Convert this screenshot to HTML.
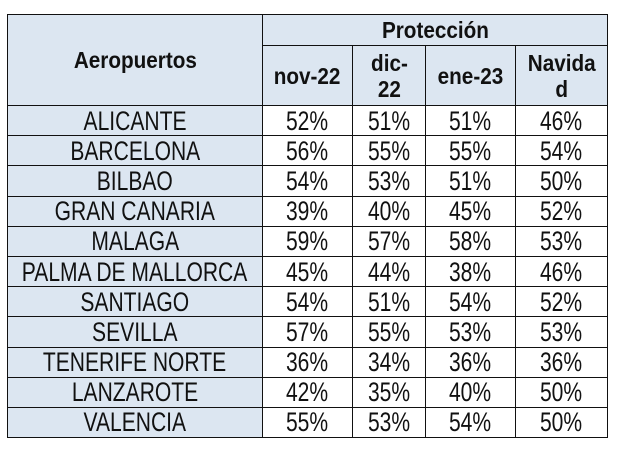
<!DOCTYPE html>
<html><head><meta charset="utf-8"><style>
html,body{margin:0;padding:0;background:#fff;width:620px;height:450px;overflow:hidden}
table{position:absolute;left:7px;top:14px;width:600px;table-layout:fixed;border-collapse:collapse;font-family:"Liberation Sans",sans-serif;color:#111}
td{border:1.5px solid #111;padding:0;text-align:center;font-size:27px;line-height:26px;height:29.2px;overflow:visible;white-space:nowrap}
td span{display:inline-block;white-space:nowrap;transform:scaleX(.78);margin:0 -60px}
.h{background:#dce6f1;font-weight:bold;font-size:23px}
.h span{transform:scaleX(.9)}
.a{background:#dce6f1}
</style></head><body>
<table>
<colgroup><col style="width:255px"><col style="width:90px"><col style="width:73px"><col style="width:90px"><col style="width:92px"></colgroup>
<tr><td class="h" rowspan="2" style="height:90px"><span>Aeropuertos</span></td><td class="h" colspan="4" style="height:30px"><span>Protección</span></td></tr>
<tr><td class="h" style="height:59px"><span>nov-22</span></td><td class="h"><span>dic-<br>22</span></td><td class="h"><span>ene-23</span></td><td class="h"><span>Navida<br>d</span></td></tr>
<tr><td class="a"><span>ALICANTE</span></td><td><span>52%</span></td><td><span>51%</span></td><td><span>51%</span></td><td><span>46%</span></td></tr>
<tr><td class="a"><span>BARCELONA</span></td><td><span>56%</span></td><td><span>55%</span></td><td><span>55%</span></td><td><span>54%</span></td></tr>
<tr><td class="a"><span>BILBAO</span></td><td><span>54%</span></td><td><span>53%</span></td><td><span>51%</span></td><td><span>50%</span></td></tr>
<tr><td class="a"><span>GRAN CANARIA</span></td><td><span>39%</span></td><td><span>40%</span></td><td><span>45%</span></td><td><span>52%</span></td></tr>
<tr><td class="a"><span>MALAGA</span></td><td><span>59%</span></td><td><span>57%</span></td><td><span>58%</span></td><td><span>53%</span></td></tr>
<tr><td class="a"><span>PALMA DE MALLORCA</span></td><td><span>45%</span></td><td><span>44%</span></td><td><span>38%</span></td><td><span>46%</span></td></tr>
<tr><td class="a"><span>SANTIAGO</span></td><td><span>54%</span></td><td><span>51%</span></td><td><span>54%</span></td><td><span>52%</span></td></tr>
<tr><td class="a"><span>SEVILLA</span></td><td><span>57%</span></td><td><span>55%</span></td><td><span>53%</span></td><td><span>53%</span></td></tr>
<tr><td class="a"><span>TENERIFE NORTE</span></td><td><span>36%</span></td><td><span>34%</span></td><td><span>36%</span></td><td><span>36%</span></td></tr>
<tr><td class="a"><span>LANZAROTE</span></td><td><span>42%</span></td><td><span>35%</span></td><td><span>40%</span></td><td><span>50%</span></td></tr>
<tr><td class="a"><span>VALENCIA</span></td><td><span>55%</span></td><td><span>53%</span></td><td><span>54%</span></td><td><span>50%</span></td></tr>
</table>
</body></html>
